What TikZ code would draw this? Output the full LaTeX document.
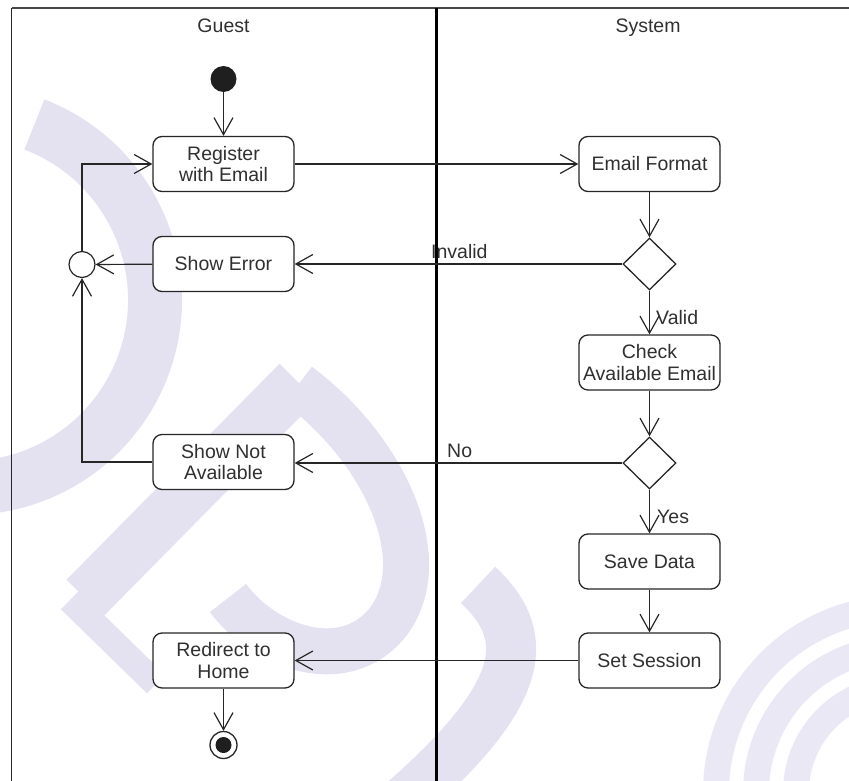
\documentclass[tikz,border=0pt]{standalone}
\usepackage{fontspec}
\setmainfont{Liberation Sans}
\usetikzlibrary{arrows.meta,shapes.geometric}
\definecolor{wm}{RGB}{228,226,240}
\definecolor{wmlight}{RGB}{234,232,244}
\definecolor{ink}{RGB}{38,38,38}
\definecolor{txt}{RGB}{48,48,48}
\definecolor{frame}{RGB}{70,70,70}
\begin{document}
\begin{tikzpicture}[x=1pt,y=-1pt,
  every node/.style={font=\fontsize{19.5}{21.5}\selectfont, text=txt},
  act/.style={draw=ink, line width=1.3pt, rounded corners=9pt, fill=white,
    minimum width=141pt, minimum height=55pt, inner sep=0pt, align=center},
  decision/.style={draw=ink, line width=1.3pt, diamond, fill=white,
    minimum width=53pt, minimum height=52pt, inner sep=0pt},
  flow/.style={draw=ink, line width=1.2pt,
    -{Straight Barb[length=17pt,width=19pt,line width=1.2pt]}},
  glabel/.style={anchor=base west, inner sep=0pt, text=txt},
  lane/.style={anchor=base, inner sep=0pt},
]
\useasboundingbox (0,0) rectangle (849,781);

% faint background emblem
\begin{scope}
  \clip (0,0) rectangle (849,781);
  \draw[wm, line width=54pt] (-33,300) ++(-69:188) arc[start angle=-69, end angle=86, radius=188];
  \draw[wm, line width=52pt] (298,382) -- (85,598);
  \draw[wm, line width=26pt] (70,600) -- (156,684);
  \draw[wm, line width=46pt] (298,385) .. controls (385,450) and (435,560) .. (388,622)
                                        .. controls (345,676) and (265,648) .. (228,598);
  \draw[wm, line width=50pt] (478,585) .. controls (538,640) and (518,700) .. (405,800);
  \foreach \r in {184,144,104}
    \draw[wmlight, line width=26pt] (900,792) ++(180:\r) arc[start angle=180, end angle=290, radius=\r];
\end{scope}

% swimlanes
\draw[frame, line width=1.8pt] (11.5,8) -- (849,8);
\draw[ink, line width=1.6pt] (11.5,8) -- (11.5,781);
\draw[black, line width=2.4pt] (436.5,8) -- (436.5,781);
\node[lane] (guest) at (223.5,33) {Guest};
\node[lane] (system) at (648,33) {System};

% guest lane
\node[circle, fill=black!88, minimum size=26pt, inner sep=0pt] (init) at (223.5,79) {};
\node[act] (reg) at (223.5,164) {Register\\with Email};
\node[act] (err) at (223.5,264) {Show Error};
\node[circle, draw=ink, line width=1.2pt, fill=white, minimum size=26pt, inner sep=0pt] (merge) at (82,264.5) {};
\node[act] (sna) at (223.5,462) {Show Not\\Available};
\node[act] (home) at (223.5,660.5) {Redirect to\\Home};
\node[circle, draw=ink, line width=1.3pt, fill=white, minimum size=27pt, inner sep=0pt,
  path picture={\fill[black!88] (path picture bounding box.center) circle (8pt);}] (fin) at (223.5,745) {};

% system lane
\node[act] (fmt) at (649.5,164) {Email Format};
\node[decision] (d1) at (649.5,264) {};
\node[act] (chk) at (649.5,362.5) {Check\\Available Email};
\node[decision] (d2) at (649.5,463) {};
\node[act] (save) at (649.5,561.5) {Save Data};
\node[act] (sess) at (649.5,660.5) {Set Session};

% control flow
\draw[flow] (init) -- (reg);
\draw[flow] (reg) -- (fmt);
\draw[flow] (fmt) -- (d1);
\draw[flow] (d1) -- (err);
\draw[flow] (d1) -- (chk);
\draw[flow] (err) -- (merge);
\draw[flow] (merge.north) |- (reg.west);
\draw[flow] (chk) -- (d2);
\draw[flow] (d2.west) -- (sna.east |- d2.west);
\draw[flow] (sna.west) -| (merge.south);
\draw[flow] (d2) -- (save);
\draw[flow] (save) -- (sess);
\draw[flow] (sess) -- (home);
\draw[flow] (home) -- (fin);

% guard labels
\node[glabel] (linvalid) at (431,258) {Invalid};
\node[glabel] (lvalid) at (656,324) {Valid};
\node[glabel] (lno) at (447,457) {No};
\node[glabel] (lyes) at (657,523) {Yes};
\end{tikzpicture}
\end{document}
